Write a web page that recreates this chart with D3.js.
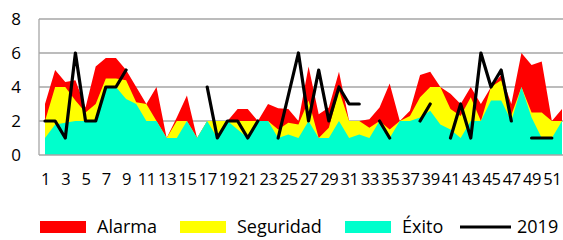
<!DOCTYPE html>
<html><head><meta charset="utf-8">
<script src="https://cdn.jsdelivr.net/npm/d3@7"></script>
<style>body{margin:0;background:#fff}svg{display:block}text{font-family:"Open Sans",sans-serif}</style>
</head><body><svg id="c" width="563" height="240"></svg>
<script>
const weeks = d3.range(1, 53);
const alarma = [3,5,4.3,4.4,2.8,5.2,5.7,5.7,5,4,3,4,1,2.2,3.5,1,2,2,2,2.7,2.7,2,3,2.75,2.7,2,5.2,2.4,2.8,4.9,2,2,2.1,2.8,4.2,2,2.6,4.7,4.9,4,3.6,3,4,3,4,4.7,3,6,5.3,5.5,2,2.7];
const seguridad = [2,4,4,3.2,2.5,3,4.5,4.5,4.4,3.1,3,2,1,2,2,1,2,2,2,2,2,2,2,1.5,1.9,1.8,3.2,1,1.6,3.8,2,2,1.6,2,1.5,2,2.3,3.4,4,4,2.7,2.3,3.4,2,4,4.4,2.35,4,2.5,2.5,2,2];
const exito = [1,1.8,1.9,2,2,2,4,4,3.3,3,2,2,1,1,2,1,2,1,2,1.5,1,2,2,1,1.2,1,2,1,1,2,1,1.2,1,2,1,2,2,2.2,2.6,1.8,1.5,1,2,2,3.2,3.2,2,4,2.2,1,1,2];
const y2019 = [2,2,1,6,2,2,4,4,5,null,null,null,null,null,null,null,4,1,2,2,1,2,null,1,3.5,6,2,5,2,4,3,3,null,2,1,null,null,2,3,null,1,3,1,6,4,5,2,null,1,1,1,null];
const yTicks = [0,2,4,6,8];
const xTickLabels = weeks.filter(d => d % 2 === 1);
const seriesNames = ["Alarma","Seguridad","Éxito","2019"];
const colors = ["#ff0000","#ffff00","#00ffcc","#000000"];

const svg = d3.select("#c");
const x = d3.scalePoint().domain(weeks).range([45, 562]);
const y = d3.scaleLinear().domain([0, 8]).range([155, 19]);
const left = 39, right = 563;

svg.append("g").selectAll("line").data(yTicks.filter(d => d > 0)).join("line")
  .attr("x1", left).attr("x2", right).attr("y1", d => y(d)).attr("y2", d => y(d))
  .attr("stroke", "#a6a6a6").attr("stroke-width", 1.3);

const area = vals => d3.area().x((d, i) => x(weeks[i])).y0(y(0)).y1(d => y(d))(vals);
[[alarma, colors[0]], [seguridad, colors[1]], [exito, colors[2]]].forEach(([v, c]) => {
  svg.append("path").attr("d", area(v)).attr("fill", c);
});

svg.append("line").attr("x1", left).attr("x2", right).attr("y1", y(0)).attr("y2", y(0)).attr("stroke", "#a6a6a6").attr("stroke-width", 1.3);
svg.append("line").attr("x1", left).attr("x2", left).attr("y1", y(0)).attr("y2", y(8)).attr("stroke", "#a6a6a6").attr("stroke-width", 1.3);

const line = d3.line().defined(d => d != null).x((d, i) => x(weeks[i])).y(d => y(d));
svg.append("path").attr("d", line(y2019)).attr("fill", "none").attr("stroke", "#000").attr("stroke-width", 3.2).attr("stroke-linejoin", "round").attr("stroke-linecap", "round");

const yAxis = d3.axisLeft(y).tickValues(yTicks).tickSize(0).tickPadding(0).tickFormat(d3.format("d"));
const gy = svg.append("g").attr("transform", "translate(21,0)").call(yAxis);
gy.select(".domain").remove();
gy.selectAll("text").attr("font-size", 17).attr("fill", "#000").attr("font-family", "Open Sans");

const xAxis = d3.axisBottom(x).tickValues(xTickLabels).tickSize(0).tickPadding(0);
const gx = svg.append("g").attr("transform", "translate(0,173)").call(xAxis);
gx.select(".domain").remove();
gx.selectAll("text").attr("font-size", 16.5).attr("fill", "#000").attr("font-family", "Open Sans").attr("letter-spacing", -0.3);

const legendX = [40, 180, 345, 460];
const lg = svg.append("g");
seriesNames.forEach((n, i) => {
  const g = lg.append("g").attr("transform", `translate(${legendX[i]},227)`);
  if (i < 3) g.append("rect").attr("x", 0).attr("y", -6).attr("width", 46).attr("height", 12).attr("fill", colors[i]);
  else g.append("line").attr("x1", 0).attr("x2", 51).attr("y1", 0).attr("y2", 0).attr("stroke", "#000").attr("stroke-width", 3);
  g.append("text").attr("x", 57).attr("y", 0).attr("dy", "0.35em").attr("font-size", 18).text(n);
});
</script></body></html>
